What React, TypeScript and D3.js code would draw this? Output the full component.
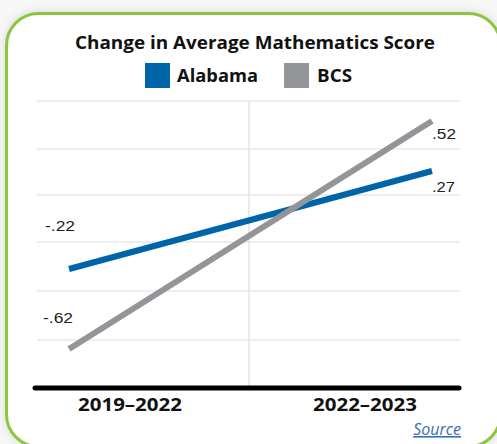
import * as d3 from "d3";

const periods = ["2019–2022", "2022–2023"];
const alabama = [-0.22, 0.27];
const bcs = [-0.62, 0.52];
const gridValues = [0.62, 0.38, 0.15, -0.085, -0.33, -0.575];
const seriesNames = ["Alabama", "BCS"];
const labelAlabama = ["-.22", ".27"];
const labelBcs = ["-.62", ".52"];

const W = 497;
const H = 444;
const BLUE = "#0064a8";
const GRAY = "#949599";
const GREEN = "#8cc63f";

export default function App() {
  const x = d3.scalePoint<string>().domain(periods).range([69, 432]);
  const xLabel = d3.scalePoint<string>().domain(periods).range([130, 365]);
  const y = d3.scaleLinear().domain([-0.62, 0.52]).range([349, 121]);

  const line = d3
    .line<number>()
    .x((_, i) => x(periods[i]) as number)
    .y((d) => y(d));

  const series = [
    { name: seriesNames[0], values: alabama, color: BLUE },
    { name: seriesNames[1], values: bcs, color: GRAY },
  ];

  // value label spots: start labels sit above-left, end labels below-right
  const valueLabels = [
    { text: labelAlabama[0], x: 45, y: y(alabama[0]) - 38, w: 30 },
    { text: labelAlabama[1], x: 432, y: y(alabama[1]) + 21, w: 23 },
    { text: labelBcs[0], x: 43, y: y(bcs[0]) - 26, w: 30 },
    { text: labelBcs[1], x: 432, y: y(bcs[1]) + 18, w: 24 },
  ];

  return (
    <svg
      width={W}
      height={H}
      style={{ position: "absolute", left: 0, top: 0, display: "block" }}
      fontFamily="'Open Sans', sans-serif"
    >
      <defs>
        <filter id="shadow" x="-10%" y="-10%" width="120%" height="120%">
          <feDropShadow dx="0" dy="0" stdDeviation="5" floodColor="#000" floodOpacity="0.12" />
        </filter>
      </defs>
      <rect width={W} height={H} fill="#f7f7f7" />
      <rect
        x={6.5}
        y={13.5}
        width={494}
        height={433}
        rx={32}
        fill="#fff"
        stroke={GREEN}
        strokeWidth={3}
        filter="url(#shadow)"
      />

      <text
        x={255}
        y={49}
        textAnchor="middle"
        fontWeight={700}
        fontSize={17}
        fill="#111"
        textLength={360}
        lengthAdjust="spacingAndGlyphs"
      >
        Change in Average Mathematics Score
      </text>

      {/* legend */}
      <rect x={145} y={63} width={25} height={25} fill={BLUE} />
      <text x={177} y={82} fontWeight={700} fontSize={17} fill="#111" textLength={81} lengthAdjust="spacingAndGlyphs">
        {seriesNames[0]}
      </text>
      <rect x={284} y={63} width={25} height={25} fill={GRAY} />
      <text x={317} y={82} fontWeight={700} fontSize={17} fill="#111" textLength={35} lengthAdjust="spacingAndGlyphs">
        {seriesNames[1]}
      </text>

      {/* grid */}
      {gridValues.map((v, i) => (
        <line key={i} x1={37} x2={460} y1={y(v)} y2={y(v)} stroke="#dddddd" strokeWidth={1} />
      ))}
      <line x1={249} x2={249} y1={y(gridValues[0])} y2={388} stroke="#dddddd" strokeWidth={1.2} />

      {/* series */}
      {series.map((s) => (
        <path key={s.name} d={line(s.values) || ""} fill="none" stroke={s.color} strokeWidth={6} />
      ))}

      {/* value labels */}
      <g fontFamily="'Liberation Sans', Arial, sans-serif" fontSize={14.5} fill="#222">
        {valueLabels.map((l) => (
          <text key={l.text} x={l.x} y={l.y} textLength={l.w} lengthAdjust="spacingAndGlyphs">
            {l.text}
          </text>
        ))}
      </g>

      {/* axis */}
      <line x1={35} x2={459} y1={388} y2={388} stroke="#000" strokeWidth={5} strokeLinecap="round" />
      {periods.map((p) => (
        <text
          key={p}
          x={xLabel(p)}
          y={411}
          textAnchor="middle"
          fontWeight={700}
          fontSize={17}
          fill="#111"
          textLength={104}
          lengthAdjust="spacingAndGlyphs"
        >
          {p}
        </text>
      ))}

      <text
        x={461}
        y={435}
        textAnchor="end"
        fontStyle="italic"
        fontSize={16}
        fill="#3b6eb3"
        textDecoration="underline"
      >
        Source
      </text>
    </svg>
  );
}
